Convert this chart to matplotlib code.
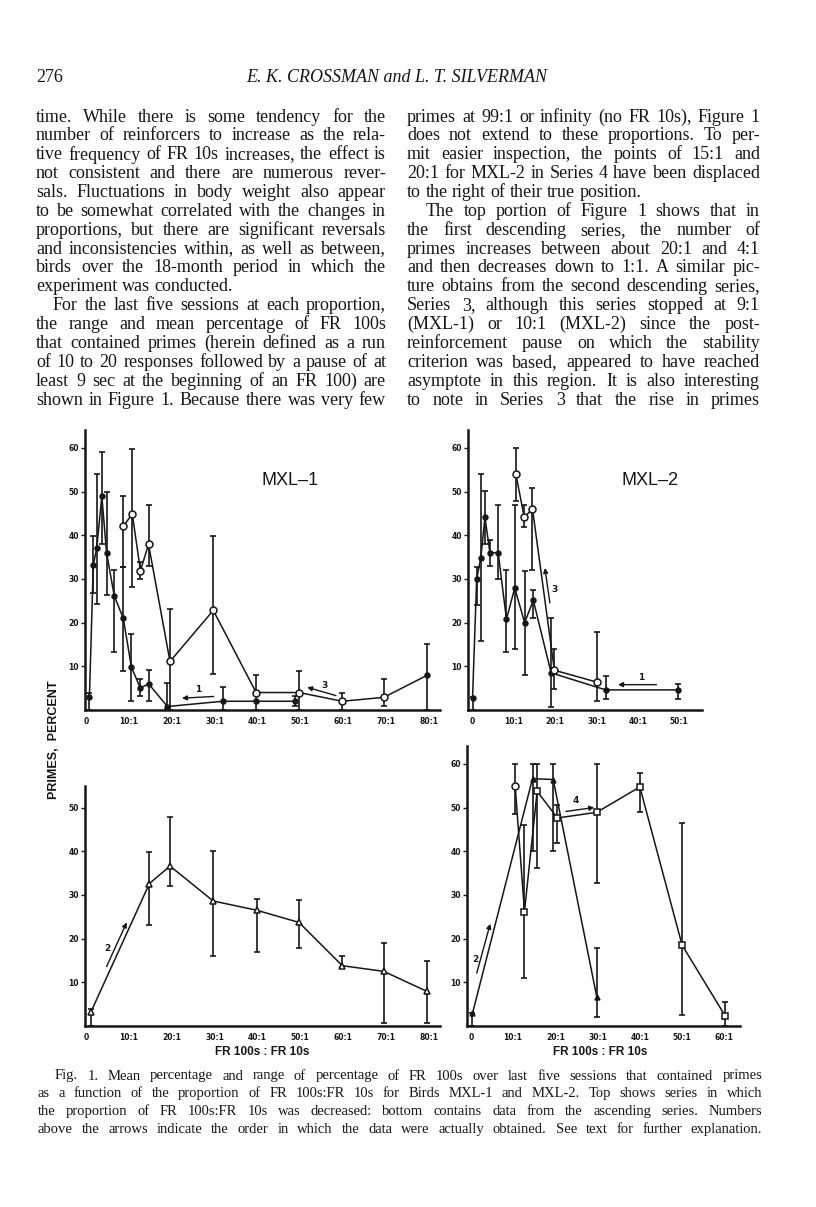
import numpy as np
import matplotlib.pyplot as plt
import matplotlib as mpl

mpl.rcParams['font.family'] = 'DejaVu Sans'

W, H = 816, 1207

# ---- MXL-1, top: descending series 1 (filled dots) ----
m1_s1_x = [0.8, 1.7, 2.5, 3.7, 4.8, 6.6, 8.7, 10.6, 12.7, 14.6, 19.0, 31.9, 39.7, 48.8]
m1_s1_y = [3.0, 33.1, 37.0, 48.9, 36.0, 26.1, 21.0, 9.8, 5.0, 6.0, 0.8, 2.0, 2.0, 2.0]
m1_s1_lo = [0.0, 26.8, 24.2, 38.0, 26.3, 13.2, 9.0, 2.1, 3.3, 2.1, 0.0, 0.0, 2.0, 1.0]
m1_s1_hi = [4.0, 39.8, 54.0, 59.0, 50.0, 32.1, 32.7, 17.3, 7.1, 9.2, 6.1, 5.2, 2.0, 3.1]

# ---- MXL-1, top: descending series 3 (open circles) ----
m1_s3_x = [79.5, 69.5, 59.8, 49.7, 39.7, 29.7, 19.6, 14.6, 12.7, 10.8, 8.7]
m1_s3_y = [7.9, 2.9, 2.0, 4.0, 4.0, 22.8, 11.1, 37.9, 31.9, 44.9, 42.0]
m1_s3_lo = [0.0, 1.0, 0.0, 0.0, 0.0, 8.2, 0.0, 33.0, 30.0, 28.1, 32.7]
m1_s3_hi = [15.1, 7.1, 3.9, 9.0, 8.0, 39.8, 23.0, 46.8, 33.8, 59.8, 48.9]
m1_s3_open = [False, True, True, True, True, True, True, True, True, True, True]

# ---- MXL-2, top: series 1 (filled) ----
m2_s1_x = [49.8, 32.2, 19.0, 14.7, 12.6, 10.2, 8.2, 6.2, 4.2, 3.0, 2.0, 1.0, 0.0]
m2_s1_y = [4.6, 4.6, 8.5, 25.1, 20.0, 27.9, 20.8, 36.0, 36.0, 44.1, 34.8, 30.0, 2.8]
m2_s1_lo = [2.5, 2.5, 0.6, 21.0, 7.9, 13.9, 13.2, 30.0, 32.9, 37.9, 15.8, 24.1, 0.0]
m2_s1_hi = [6.0, 7.7, 21.0, 27.5, 31.8, 47.0, 32.0, 47.0, 38.8, 50.1, 54.0, 32.8, 3.0]

# ---- MXL-2, top: series 3 (open) ----
m2_s3_x = [30.0, 19.8, 14.5, 12.5, 10.5]
m2_s3_y = [6.4, 9.1, 46.0, 44.1, 53.9]
m2_s3_lo = [2.0, 4.8, 32.0, 41.9, 47.9]
m2_s3_hi = [17.9, 13.9, 50.8, 47.0, 60.0]

# ---- MXL-1, bottom: ascending series 2 (triangles) ----
m1_s2_x = [1.1, 14.8, 19.6, 29.7, 39.8, 49.7, 59.8, 69.5, 79.6]
m1_s2_y = [3.1, 32.6, 36.6, 28.6, 26.5, 23.7, 13.8, 12.5, 7.9]
m1_s2_lo = [0.0, 23.0, 32.0, 16.1, 17.0, 17.8, 13.5, 0.6, 0.6]
m1_s2_hi = [3.8, 39.9, 47.9, 40.0, 29.0, 28.9, 16.0, 19.0, 14.8]

# ---- MXL-2, bottom: series 2 (filled) and series 4 (squares) ----
m2_s2_x = [0.4, 14.6, 19.5, 29.8]
m2_s2_y = [2.9, 56.6, 56.4, 6.7]
m2_s2_lo = [0.0, 40.0, 40.0, 2.0]
m2_s2_hi = [3.0, 60.0, 60.0, 17.9]

m2_s4_x = [10.5, 12.7, 15.7, 20.5, 29.8, 40.0, 50.0, 60.2]
m2_s4_y = [54.9, 26.2, 53.7, 47.6, 48.9, 54.7, 18.5, 2.3]
m2_s4_lo = [48.4, 10.9, 36.1, 41.8, 32.8, 49.0, 2.5, 0.0]
m2_s4_hi = [60.0, 46.0, 60.0, 50.6, 60.0, 57.9, 46.4, 5.6]
m2_s4_mark = ['o', 's', 's', 's', 's', 's', 's', 's']

x_ticks_80 = [0, 10, 20, 30, 40, 50, 60, 70, 80]
x_labels_80 = ['0', '10:1', '20:1', '30:1', '40:1', '50:1', '60:1', '70:1', '80:1']
x_ticks_50 = [0, 10, 20, 30, 40, 50]
x_labels_50 = ['0', '10:1', '20:1', '30:1', '40:1', '50:1']
x_ticks_60 = [0, 10, 20, 30, 40, 50, 60]
x_labels_60 = ['0', '10:1', '20:1', '30:1', '40:1', '50:1', '60:1']
y_ticks = [10, 20, 30, 40, 50, 60]
y_ticks_b = [10, 20, 30, 40, 50]

left_col = [
    "time. While there is some tendency for the",
    "number of reinforcers to increase as the rela-",
    "tive frequency of FR 10s increases, the effect is",
    "not consistent and there are numerous rever-",
    "sals. Fluctuations in body weight also appear",
    "to be somewhat correlated with the changes in",
    "proportions, but there are significant reversals",
    "and inconsistencies within, as well as between,",
    "birds over the 18-month period in which the",
    "experiment was conducted.",
    "For the last five sessions at each proportion,",
    "the range and mean percentage of FR 100s",
    "that contained primes (herein defined as a run",
    "of 10 to 20 responses followed by a pause of at",
    "least 9 sec at the beginning of an FR 100) are",
    "shown in Figure 1. Because there was very few",
]
right_col = [
    "primes at 99:1 or infinity (no FR 10s), Figure 1",
    "does not extend to these proportions. To per-",
    "mit easier inspection, the points of 15:1 and",
    "20:1 for MXL-2 in Series 4 have been displaced",
    "to the right of their true position.",
    "The top portion of Figure 1 shows that in",
    "the first descending series, the number of",
    "primes increases between about 20:1 and 4:1",
    "and then decreases down to 1:1. A similar pic-",
    "ture obtains from the second descending series,",
    "Series 3, although this series stopped at 9:1",
    "(MXL-1) or 10:1 (MXL-2) since the post-",
    "reinforcement pause on which the stability",
    "criterion was based, appeared to have reached",
    "asymptote in this region. It is also interesting",
    "to note in Series 3 that the rise in primes",
]
caption = [
    "Fig. 1. Mean percentage and range of percentage of FR 100s over last five sessions that contained primes",
    "as a function of the proportion of FR 100s:FR 10s for Birds MXL-1 and MXL-2. Top shows series in which",
    "the proportion of FR 100s:FR 10s was decreased: bottom contains data from the ascending series. Numbers",
    "above the arrows indicate the order in which the data were actually obtained. See text for further explanation.",
]

fig = plt.figure(figsize=(W / 100, H / 100), dpi=100)
fig.patch.set_facecolor('white')
ink = '#161616'


def panel(px_left, px_right, px_bottom, xlim, ylim, xt, xtl, yt):
    px_w = px_right - px_left
    px_h = (ylim[1] - ylim[0]) * 4.37
    ax = fig.add_axes([px_left / W, 1 - px_bottom / H, px_w / W, px_h / H])
    ax.set_xlim(xlim)
    ax.set_ylim(ylim)
    ax.patch.set_alpha(0)
    for s in ['top', 'right']:
        ax.spines[s].set_visible(False)
    for s in ['left', 'bottom']:
        ax.spines[s].set_linewidth(1.8)
        ax.spines[s].set_color(ink)
    ax.set_xticks(xt)
    ax.set_xticklabels(xtl, fontsize=5.5, fontweight='bold', color=ink)
    ax.set_yticks(yt)
    ax.set_yticklabels([str(v) for v in yt], fontsize=5.5, fontweight='bold', color=ink)
    ax.tick_params(axis='x', length=0, pad=5)
    ax.tick_params(axis='y', length=3, width=1, direction='out', pad=1.5, color=ink)
    return ax


def series(ax, x, y, lo, hi, marker, fill, ms=4.5, open_mask=None):
    x = np.array(x); y = np.array(y)
    err = [y - np.array(lo), np.array(hi) - y]
    ax.errorbar(x, y, yerr=err, fmt='none', ecolor=ink, elinewidth=1.2,
                capsize=2.3, capthick=1.2, clip_on=False, zorder=2)
    ax.plot(x, y, '-', color=ink, lw=1.1, zorder=3, clip_on=False)
    if open_mask is None:
        open_mask = [fill == 'white'] * len(x)
    marks = marker if isinstance(marker, list) else [marker] * len(x)
    for xi, yi, op, mk in zip(x, y, open_mask, marks):
        ax.plot(xi, yi, mk, ms=ms if op else 3.5, mfc='white' if op else ink, mec=ink,
                mew=1.1, zorder=4, clip_on=False)


def arrow(ax, tail, head, label, lpos):
    ax.annotate('', xy=head, xytext=tail,
                arrowprops=dict(arrowstyle='-|>', lw=1.0, color=ink, mutation_scale=7,
                                shrinkA=0, shrinkB=0))
    ax.text(lpos[0], lpos[1], label, fontsize=6.5, fontweight='bold', color=ink,
            ha='center', va='center')


# top-left: MXL-1 descending
ax1 = panel(85, 440, 710, (-0.23, 82.6), (0, 64), x_ticks_80, x_labels_80, y_ticks)
series(ax1, m1_s1_x, m1_s1_y, m1_s1_lo, m1_s1_hi, 'o', ink)
series(ax1, m1_s3_x, m1_s3_y, m1_s3_lo, m1_s3_hi, 'o', 'white', ms=5, open_mask=m1_s3_open)
arrow(ax1, (29.8, 3.1), (22.4, 2.7), '1', (26.1, 4.7))
arrow(ax1, (58.3, 3.3), (51.6, 5.2), '3', (55.6, 5.6))
ax1.text(47.6, 52.6, 'MXL\u20131', fontsize=13, family='Liberation Sans', color=ink,
         ha='center', va='center')

# top-right: MXL-2 descending
ax2 = panel(468, 702, 710, (-1.1, 55.5), (0, 64), x_ticks_50, x_labels_50, y_ticks)
series(ax2, m2_s1_x, m2_s1_y, m2_s1_lo, m2_s1_hi, 'o', ink)
series(ax2, m2_s3_x, m2_s3_y, m2_s3_lo, m2_s3_hi, 'o', 'white', ms=5)
arrow(ax2, (18.7, 24.5), (17.5, 32.5), '3', (19.8, 27.5))
arrow(ax2, (44.5, 5.8), (35.2, 5.8), '1', (40.9, 7.4))
ax2.text(42.9, 52.6, 'MXL\u20132', fontsize=13, family='Liberation Sans', color=ink,
         ha='center', va='center')

# bottom-left: MXL-1 ascending
ax3 = panel(85, 440, 1026, (-0.23, 82.6), (0, 55), x_ticks_80, x_labels_80, y_ticks_b)
series(ax3, m1_s2_x, m1_s2_y, m1_s2_lo, m1_s2_hi, '^', 'white', ms=4)
arrow(ax3, (4.8, 13.6), (9.5, 23.7), '2', (5.0, 17.8))

# bottom-right: MXL-2 ascending
ax4 = panel(467, 740, 1026, (-0.9, 63.7), (0, 64), x_ticks_60, x_labels_60, y_ticks)
series(ax4, m2_s2_x, m2_s2_y, m2_s2_lo, m2_s2_hi, '^', ink)
series(ax4, m2_s4_x, m2_s4_y, m2_s4_lo, m2_s4_hi, m2_s4_mark, 'white', ms=5)
arrow(ax4, (22.5, 49.1), (29.2, 50.0), '4', (24.8, 51.6))
arrow(ax4, (1.4, 12.1), (4.6, 23.4), '2', (1.0, 15.3))

# shared axis labels
fig.text(54 / W, 1 - 740 / H, 'PRIMES,  PERCENT', rotation=90, fontsize=9, fontweight='bold',
         family='Liberation Sans', color=ink, ha='center', va='center')
for cx in (262, 600):
    fig.text(cx / W, 1 - 1052 / H, 'FR 100s : FR 10s', fontsize=8.5, fontweight='bold',
             family='Liberation Sans', color=ink, ha='center', va='center')

# page text, justified word by word
fig.canvas.draw()
rend = fig.canvas.get_renderer()


def put_line(line, x0, x1, y, fs, justify=True, style='normal', family='Liberation Serif'):
    words = line.split(' ')
    ts = [fig.text(0, 1 - y / H, w, fontsize=fs, family=family, style=style,
                   color=ink, va='center', ha='left') for w in words]
    widths = [t.get_window_extent(rend).width for t in ts]
    sp = fs * 100 / 72 * 0.25
    if justify and len(words) > 1:
        gap = (x1 - x0 - sum(widths)) / (len(words) - 1)
    else:
        gap = sp
    x = x0
    for t, w in zip(ts, widths):
        t.set_position((x / W, 1 - y / H))
        x += w + gap


fig.text(36 / W, 1 - 77 / H, '276', fontsize=13, family='Liberation Serif', color=ink,
         va='center', ha='left')
fig.text(397 / W, 1 - 77 / H, 'E. K. CROSSMAN and L. T. SILVERMAN', fontsize=13,
         family='Liberation Serif', style='italic', color=ink, va='center', ha='center')

for i, line in enumerate(left_col):
    y = 117 + 18.87 * i
    x0 = 53 if i == 10 else 36
    put_line(line, x0, 386, y, 13, justify=i != 9)
for i, line in enumerate(right_col):
    y = 117 + 18.87 * i
    x0 = 426 if i == 5 else 407
    put_line(line, x0, 760, y, 13, justify=i != 4)

for i, line in enumerate(caption):
    y = 1076 + 17.7 * i
    x0 = 55 if i == 0 else 38
    put_line(line, x0, 762, y, 10.5)

fig.savefig('out.png', dpi=100, facecolor='white')
